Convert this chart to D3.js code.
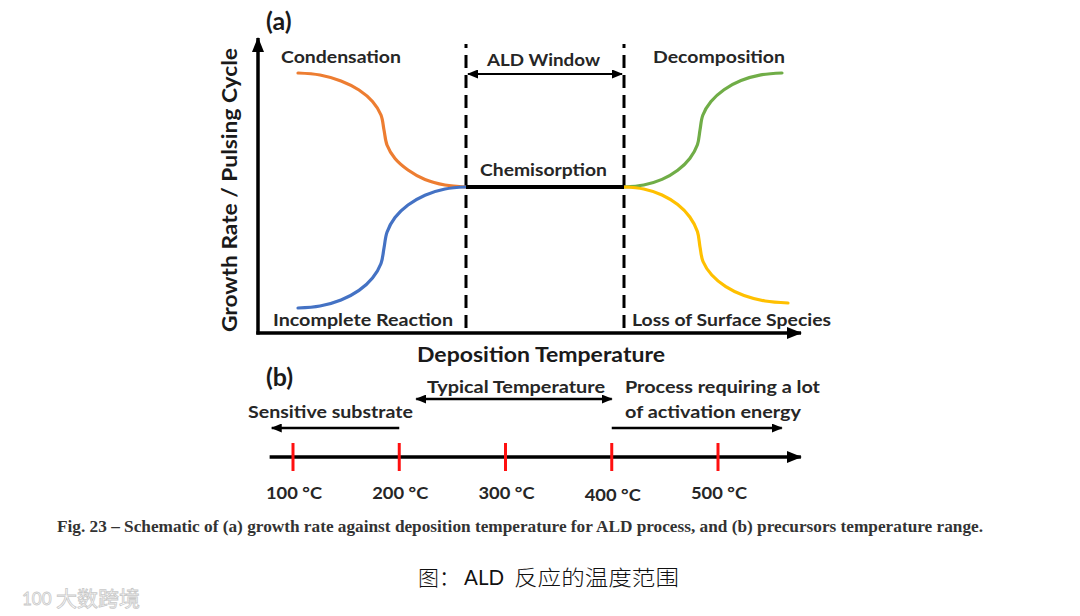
<!DOCTYPE html>
<html><head><meta charset="utf-8">
<script src="https://cdn.jsdelivr.net/npm/d3@7/dist/d3.min.js"></script>
<style>html,body{margin:0;padding:0;background:#fff;}svg{display:block;}</style>
</head><body>
<svg id="chart" width="1080" height="616"></svg>
<script>
// ---------- DATA (panel a: schematic units, x = temperature, y = growth rate) ----------
const condensation = [[40,260],[62,258],[83,252],[101,243],[114.5,231.5],[123,218],[126,203],[129,188],[137,174.5],[150,163],[167,153.5],[187,148],[208,146]];
const incomplete   = [[40,25],[62,27],[83,33],[101,42.6],[114.5,55],[123,69.5],[126,85],[129,100.8],[137,115.5],[150,128],[167,137.8],[187,144],[208,146]];
const decomposition= [[366,146],[385.7,148],[404,153.6],[419.7,162.7],[431.8,174.5],[439.4,188.2],[442,203],[444.8,217.8],[453,231.5],[466,243.3],[483,252.4],[502.8,258.1],[524,260]];
const lossSpecies  = [[366,146],[385.7,144],[404,138],[419.7,128.4],[431.8,116],[439.4,101.5],[442,86],[445,71.5],[453.8,58],[467.8,46.4],[486,37.5],[507.2,32],[530,30]];
const chemisorption = [[208,146],[366,146]];
const windowBounds = [208, 366];
const windowLevel = 259;   // height of the "ALD Window" arrow
// ---------- DATA (panel b: temperature line) ----------
const tempTicks = [100, 200, 300, 400, 500];
const tempLabels = ["100 °C","200 °C","300 °C","400 °C","500 °C"];
const sensitiveRange = [200, 80];
const typicalRange = [216, 400];
const activationRange = [400, 560];
const timelineRange = [78, 578];

const svg = d3.select("#chart");
const FONT = "Lato, 'Open Sans', sans-serif";
const TXT = "#262626";

// markers
const defs = svg.append("defs");
function marker(id, w, h, color) {
  defs.append("marker").attr("id", id).attr("viewBox", `0 0 ${w} ${h}`)
    .attr("refX", w - 1).attr("refY", h / 2).attr("markerWidth", w).attr("markerHeight", h)
    .attr("markerUnits", "userSpaceOnUse").attr("orient", "auto-start-reverse")
    .append("path").attr("d", `M0,0L${w},${h/2}L0,${h}Z`).attr("fill", color);
}
marker("bigArrow", 15, 12, "#000");
marker("smallArrow", 11, 9, "#000");

// ---------- PANEL A ----------
const x = d3.scaleLinear().domain([0, 540]).range([258, 798]);
const y = d3.scaleLinear().domain([0, 290]).range([333, 43]);

// axes
svg.append("line").attr("x1", x(0)).attr("y1", y(0) + 1.5).attr("x2", x(0)).attr("y2", y(295))
  .attr("stroke", "#000").attr("stroke-width", 3.5).attr("marker-end", "url(#bigArrow)");
svg.append("line").attr("x1", x(0) - 1.7).attr("y1", y(0)).attr("x2", x(543)).attr("y2", y(0))
  .attr("stroke", "#000").attr("stroke-width", 3.5).attr("marker-end", "url(#bigArrow)");

// dashed window boundaries
svg.selectAll("line.win").data(windowBounds).join("line").attr("class", "win")
  .attr("x1", d => x(d)).attr("x2", d => x(d)).attr("y1", y(5)).attr("y2", y(289))
  .attr("stroke", "#000").attr("stroke-width", 3).attr("stroke-dasharray", "13 7");

// window arrow
svg.append("line").attr("x1", x(windowBounds[0]) + 2).attr("x2", x(windowBounds[1]) - 2)
  .attr("y1", y(windowLevel)).attr("y2", y(windowLevel))
  .attr("stroke", "#000").attr("stroke-width", 2.2)
  .attr("marker-start", "url(#smallArrow)").attr("marker-end", "url(#smallArrow)");

const line = d3.line().x(d => x(d[0])).y(d => y(d[1])).curve(d3.curveCatmullRom.alpha(0.5));
const curves = [
  {d: condensation, c: "#ED7D31"},
  {d: incomplete, c: "#4472C4"},
  {d: decomposition, c: "#70AD47"},
  {d: lossSpecies, c: "#FFC000"}
];
svg.selectAll("path.curve").data(curves).join("path").attr("class", "curve")
  .attr("d", d => line(d.d)).attr("fill", "none").attr("stroke", d => d.c)
  .attr("stroke-width", 3.2).attr("stroke-linecap", "round");
svg.append("path").attr("d", d3.line().x(d => x(d[0])).y(d => y(d[1]))(chemisorption))
  .attr("stroke", "#000").attr("stroke-width", 4).attr("fill", "none");

function label(t, px, py, size, anchor, opts = {}) {
  const el = svg.append("text").attr("x", px).attr("y", py).text(t)
    .attr("font-family", opts.family || FONT).attr("font-size", size)
    .attr("font-weight", opts.weight || "bold").attr("fill", opts.fill || TXT)
    .attr("text-anchor", anchor || "start");
  if (opts.len) el.attr("textLength", opts.len).attr("lengthAdjust", "spacingAndGlyphs");
  return el;
}
label("(a)", 266, 30, 25, "start", {fill: "#1a1a1a"});
label("Condensation", 281, 63, 17.5, "start", {len: 120});
label("ALD Window", 543.5, 66, 17.5, "middle", {len: 113});
label("Decomposition", 719, 63, 17.5, "middle", {len: 132});
label("Chemisorption", 543.5, 176, 17.5, "middle", {len: 127});
label("Incomplete Reaction", 273, 326, 17.5, "start", {len: 180});
label("Loss of Surface Species", 632, 326, 17.5, "start", {len: 199});
label("Deposition Temperature", 541, 362, 20, "middle", {len: 248, fill: "#1a1a1a"});
svg.append("text").attr("transform", "translate(237,190) rotate(-90)").attr("text-anchor", "middle")
  .attr("font-family", FONT).attr("font-size", 20).attr("font-weight", "bold").attr("fill", "#1a1a1a")
  .attr("textLength", 284).attr("lengthAdjust", "spacingAndGlyphs")
  .text("Growth Rate / Pulsing Cycle");

// ---------- PANEL B ----------
const t = d3.scaleLinear().domain([100, 500]).range([293, 718]);
const lineY = 457;
svg.append("line").attr("x1", t(timelineRange[0])).attr("x2", t(timelineRange[1]))
  .attr("y1", lineY).attr("y2", lineY).attr("stroke", "#000").attr("stroke-width", 3.5)
  .attr("marker-end", "url(#bigArrow)");
svg.selectAll("line.tick").data(tempTicks).join("line").attr("class", "tick")
  .attr("x1", d => t(d)).attr("x2", d => t(d)).attr("y1", 443).attr("y2", 471)
  .attr("stroke", "#FF1010").attr("stroke-width", 3);
svg.selectAll("text.tl").data(tempTicks).join("text").attr("class", "tl")
  .attr("x", d => t(d) + 1).attr("y", (d, i) => i === 3 ? 501 : 499)
  .attr("text-anchor", "middle").attr("font-family", FONT).attr("font-size", 17.5)
  .attr("font-weight", "bold").attr("fill", TXT)
  .attr("textLength", 56).attr("lengthAdjust", "spacingAndGlyphs")
  .text((d, i) => tempLabels[i]);

function arrow(r, yy, both) {
  const el = svg.append("line").attr("x1", t(r[0])).attr("x2", t(r[1])).attr("y1", yy).attr("y2", yy)
    .attr("stroke", "#000").attr("stroke-width", 2.4).attr("marker-end", "url(#smallArrow)");
  if (both) el.attr("marker-start", "url(#smallArrow)");
}
arrow(sensitiveRange, 428, false);
arrow(typicalRange, 399, true);
arrow(activationRange, 428, false);

label("(b)", 266, 386, 25, "start", {fill: "#1a1a1a"});
label("Typical Temperature", 427, 393, 17.5, "start", {len: 178});
label("Process requiring a lot", 625, 393, 17.5, "start", {len: 195});
label("of activation energy", 625, 418, 17.5, "start", {len: 176});
label("Sensitive substrate", 248, 418, 17.5, "start", {len: 165});

// ---------- CAPTIONS ----------
label("Fig. 23 – Schematic of (a) growth rate against deposition temperature for ALD process, and (b) precursors temperature range.",
  57, 532, 16, "start", {family: "'Liberation Serif','DejaVu Serif',serif", len: 926, fill: "#333"});
const CJK = "'Noto Sans CJK SC', sans-serif";
label("图：", 418, 585, 21, "start", {family: CJK, weight: 300, fill: "#111"});
label("ALD", 464, 585, 21, "start", {family: FONT, weight: "normal", fill: "#111", len: 40});
label("反应的温度范围", 514, 585, 21, "start", {family: CJK, weight: 300, fill: "#111", len: 165});

// watermark
label("100", 22, 605, 17, "start", {family: FONT, weight: "normal", fill: "#fff"}).attr("stroke", "#c8c8c8").attr("stroke-width", 0.8);
label("大数跨境", 56, 606, 21, "start", {family: CJK, weight: "normal", fill: "#fff"}).attr("stroke", "#c8c8c8").attr("stroke-width", 0.8);
</script>
</body></html>
